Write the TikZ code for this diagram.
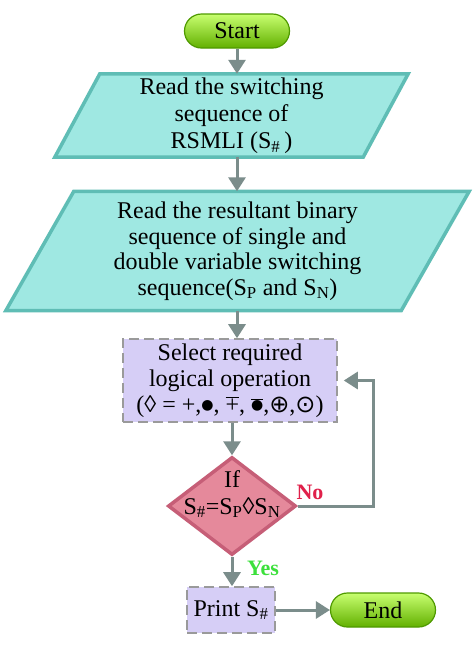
\documentclass[tikz,border=0pt]{standalone}
\usepackage{fontspec}
\setmainfont{Liberation Serif}
\newfontfamily\symfont{DejaVu Sans}
\usetikzlibrary{arrows.meta,shapes.geometric,backgrounds}
\definecolor{arrowc}{HTML}{7B8D8B}
\definecolor{parafill}{HTML}{9FE8E2}
\definecolor{paraedge}{HTML}{5FBDB5}
\definecolor{pilltop}{HTML}{C8FF70}
\definecolor{pillmid}{HTML}{9BEE1E}
\definecolor{pillbot}{HTML}{62B000}
\definecolor{pilledge}{HTML}{4F9A00}
\definecolor{diafill}{HTML}{E5899B}
\definecolor{diaedge}{HTML}{C65E77}
\definecolor{boxfill}{HTML}{D6CEF6}
\definecolor{boxedge}{HTML}{9A9A9A}
\definecolor{nocol}{HTML}{E0204A}
\definecolor{yescol}{HTML}{3CE03C}
\newcommand{\bigdot}{\raisebox{3pt}{\symfont\fontsize{14}{14}\selectfont ●}}
\begin{document}
\begin{tikzpicture}[x=1pt,y=-1pt,
  every node/.style={font=\fontsize{24}{27}\selectfont, align=center, inner sep=0pt},
  terminal/.style={rectangle, rounded corners=17pt, minimum width=105pt, minimum height=34pt,
    top color=pilltop, middle color=pillmid, bottom color=pillbot, draw=pilledge, line width=1.2pt},
  iotext/.style={rectangle},
  parashape/.style={fill=parafill, draw=paraedge, line width=3.5pt, line join=miter},
  procbox/.style={rectangle, fill=boxfill, draw=boxedge, line width=1.6pt, dash pattern=on 10pt off 5pt},
  decision/.style={diamond, fill=diafill, draw=diaedge, line width=3.5pt, minimum width=128pt, minimum height=98pt},
  flow/.style={draw=arrowc, line width=3pt, -{Triangle[width=17pt,length=14pt]}},
  lbl/.style={font=\fontsize{22}{24}\selectfont\bfseries}
]
\useasboundingbox (0,0) rectangle (474,649);

\node[terminal] (start) at (237,31) {Start};
\node[iotext, minimum width=308pt, minimum height=83pt] (p1) at (231.5,115.5)
  {Read the switching\\sequence of\\RSMLI (S\textsubscript{\#}\,)};
\node[iotext, minimum width=395pt, minimum height=119pt, font=\fontsize{24}{25.5}\selectfont] (p2) at (237.5,251)
  {Read the resultant binary\\sequence of single and\\double variable switching\\sequence(S\textsubscript{P} and S\textsubscript{N})};
\node[procbox, minimum width=214pt, minimum height=83pt, font=\fontsize{24}{26}\selectfont] (sel) at (230,380.5)
  {Select required\\logical operation\\(◊ = +,\bigdot, $\overline{\hbox{+}}$, $\overline{\hbox{\bigdot}}$,{\symfont ⊕},{\symfont ⊙})};
\node[decision] (dec) at (232,506) {};
\node (dect) at (232,494) {If\\S\textsubscript{\#}=S\textsubscript{P}◊S\textsubscript{N}};
\node[procbox, minimum width=88pt, minimum height=46pt] (pr) at (231,610) {Print S\textsubscript{\#}};
\node[terminal] (end) at (383,610) {End};
\node[lbl, text=nocol] (no) at (310,492) {No};
\node[lbl, text=yescol] (yes) at (263,568) {Yes};
\coordinate (fb) at (373,0);

\begin{scope}[on background layer]
  \fill[white] (0,0) rectangle (474,649);
  \draw[parashape] ([xshift=22.5pt]p1.north west) -- ([xshift=22.5pt]p1.north east)
    -- ([xshift=-22.5pt]p1.south east) -- ([xshift=-22.5pt]p1.south west) -- cycle;
  \draw[parashape] ([xshift=34pt]p2.north west) -- ([xshift=34pt]p2.north east)
    -- ([xshift=-34pt]p2.south east) -- ([xshift=-34pt]p2.south west) -- cycle;
\end{scope}

\draw[flow] (start.south) -- (start.south |- p1.north);
\draw[flow] (start.south |- p1.south) -- (start.south |- p2.north);
\draw[flow] (start.south |- p2.south) -- (start.south |- sel.north);
\draw[flow] (sel.south -| dec.north) -- (dec.north);
\draw[flow] (dec.south) -- (dec.south |- pr.north);
\draw[flow] (pr.east) -- (end.west);
\draw[flow] (dec.east) -- (dec.east -| fb) |- ([xshift=6pt]sel.east);
\end{tikzpicture}
\end{document}
